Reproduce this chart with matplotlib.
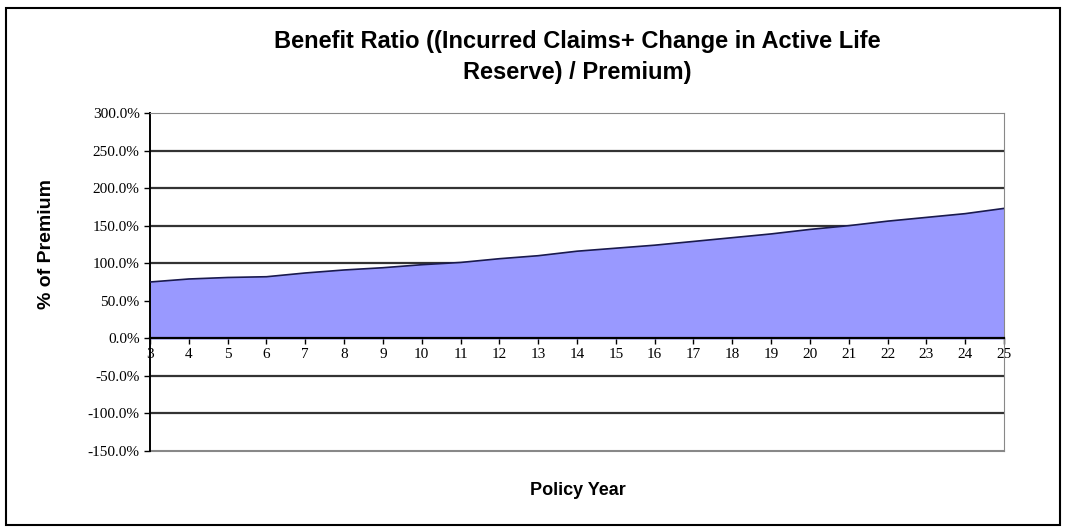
import matplotlib
matplotlib.use("Agg")
import matplotlib.pyplot as plt
from matplotlib.patches import Rectangle
from matplotlib.ticker import FuncFormatter

# datos
years = list(range(3, 26))
ratio = [75, 79, 81, 82, 87, 91, 94, 98, 101, 106, 110, 116, 120,
         124, 129, 134, 139, 145, 150, 156, 161, 166, 173]
y_ticks = [300, 250, 200, 150, 100, 50, 0, -50, -100, -150]

fig = plt.figure(figsize=(10.67, 5.31), dpi=100)
fig.patches.append(Rectangle((0.006, 0.012), 0.987, 0.973, transform=fig.transFigure,
                             fill=False, edgecolor="black", linewidth=1.5))

ax = fig.add_axes([0.1406, 0.1507, 0.8004, 0.6365])
ax.fill_between(years, ratio, 0, color="#9999FF", zorder=2)
ax.plot(years, ratio, color="#1a1a4d", linewidth=1.2, zorder=3)

ax.set_xlim(3, 25)
ax.set_ylim(-150, 300)
ax.set_yticks(y_ticks)
ax.set_xticks(years)
ax.yaxis.set_major_formatter(FuncFormatter(lambda v, p: "%.1f%%" % v))

for v in y_ticks:
    if v not in (0, 300, -150):
        ax.axhline(v, color="#333333", linewidth=1.6, zorder=1)

ax.spines["bottom"].set_position(("data", 0))
ax.spines["bottom"].set_linewidth(1.6)
ax.spines["bottom"].set_zorder(4)
ax.spines["left"].set_linewidth(1.4)
ax.spines["top"].set_color("#888888")
ax.spines["right"].set_color("#888888")
ax.axhline(-150, color="#888888", linewidth=1.5, clip_on=False)

ax.tick_params(axis="both", direction="out", length=4, width=1,
               labelsize=11, labelfontfamily="Liberation Serif")
ax.tick_params(axis="x", pad=3)

fig.text(0.541, 0.893, "Benefit Ratio ((Incurred Claims+ Change in Active Life\nReserve) / Premium)",
         ha="center", va="center", fontsize=17, fontweight="bold",
         family="Liberation Sans", linespacing=1.45)
fig.text(0.044, 0.54, "% of Premium", rotation=90, ha="center", va="center",
         fontsize=14, fontweight="bold", family="Liberation Sans")
fig.text(0.542, 0.077, "Policy Year", ha="center", va="center",
         fontsize=13, fontweight="bold", family="Liberation Sans")

fig.savefig("out.png", dpi=100)
